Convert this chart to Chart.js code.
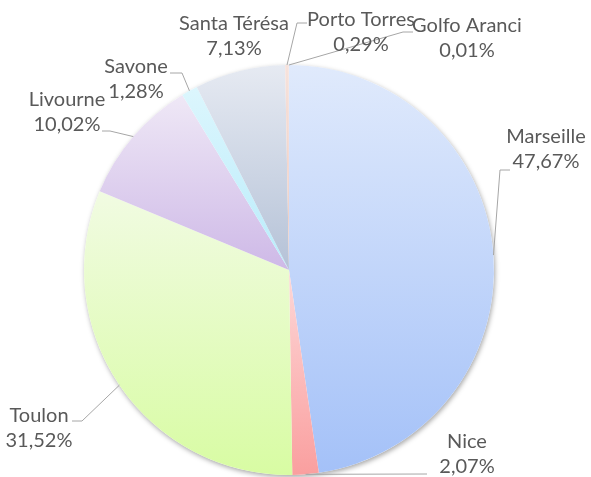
<!DOCTYPE html>
<html>
<head>
<meta charset="utf-8">
<script src="https://cdn.jsdelivr.net/npm/chart.js@4.4.1/dist/chart.umd.min.js"></script>
<style>
  html, body { margin: 0; padding: 0; background: #fff; }
  #wrap { width: 591px; height: 477px; }
</style>
</head>
<body>
<div id="wrap"><canvas id="portsChart" width="591" height="477"></canvas></div>
<script>
/* ===== Port shares pie ===== */

const ports = ['Marseille', 'Nice', 'Toulon', 'Livourne', 'Savone', 'Santa Térésa', 'Porto Torres', 'Golfo Aranci'];
const shares = [47.67, 2.07, 31.52, 10.02, 1.28, 7.13, 0.29, 0.01];
const shareLabels = ['47,67%', '2,07%', '31,52%', '10,02%', '1,28%', '7,13%', '0,29%', '0,01%'];

// gradient top / bottom colours per slice
const topColors = ['#e0eafc', '#fdd8d8', '#f1fbe2', '#efe8f6', '#dcf6fd', '#e6eaf2', '#f6e2dc', '#f4f4f4'];
const bottomColors = ['#a4c1f8', '#fa9f9f', '#d8fca3', '#ceb9e7', '#b9ecfb', '#b5c2d7', '#eec8bc', '#dddddd'];

// label placement (text centre, first line middle) and leader bends
const labelPos = [[546, 137], [467, 442], [39, 416], [67, 100], [136, 67], [234, 24], [361, 20], [467, 26]];
const leaderBends = [
  [[500, 170], [510, 170]],
  [[427, 474]],
  [[82, 421], [72, 421]],
  [[110, 131], [102, 131]],
  [[182, 73], [170, 73]],
  [],
  [[297, 23], [307, 23]],
  [[403, 32], [413, 32]]
];

const FONT = '20px Lato';
const TEXT_COLOR = '#595959';
const LINE_COLOR = '#a6a6a6';

function sliceGradient(context) {
  const chart = context.chart;
  const area = chart.chartArea;
  const i = context.dataIndex;
  if (!area) return bottomColors[i];
  const cx = (area.left + area.right) / 2;
  const cy = (area.top + area.bottom) / 2;
  const r = Math.min(area.width, area.height) / 2;
  const total = shares.reduce((a, b) => a + b, 0);
  let before = 0;
  for (let k = 0; k < i; k++) before += shares[k];
  const a0 = before / total * Math.PI * 2 - Math.PI / 2;
  const a1 = (before + shares[i]) / total * Math.PI * 2 - Math.PI / 2;
  const ys = [cy, cy + r * Math.sin(a0), cy + r * Math.sin(a1)];
  [-Math.PI / 2, Math.PI / 2, Math.PI * 1.5].forEach(a => {
    if (a > a0 && a < a1) ys.push(cy + r * Math.sin(a));
  });
  const y0 = Math.min(...ys), y1 = Math.max(...ys);
  const g = chart.ctx.createLinearGradient(0, y0, 0, y1 > y0 ? y1 : y0 + 1);
  g.addColorStop(0, topColors[i]);
  g.addColorStop(1, bottomColors[i]);
  return g;
}

const pieShadow = {
  id: 'pieShadow',
  beforeDatasetsDraw(chart) {
    const arc = chart.getDatasetMeta(0).data[0];
    if (!arc) return;
    const ctx = chart.ctx;
    ctx.save();
    ctx.shadowColor = 'rgba(0,0,0,0.35)';
    ctx.shadowBlur = 5;
    ctx.shadowOffsetX = 1;
    ctx.shadowOffsetY = 2;
    ctx.fillStyle = '#ffffff';
    ctx.beginPath();
    ctx.arc(arc.x, arc.y, arc.outerRadius, 0, Math.PI * 2);
    ctx.fill();
    ctx.restore();
  }
};

const calloutLabels = {
  id: 'calloutLabels',
  afterDatasetsDraw(chart) {
    const ctx = chart.ctx;
    const arcs = chart.getDatasetMeta(0).data;
    ctx.save();
    ctx.strokeStyle = LINE_COLOR;
    ctx.lineWidth = 1;
    arcs.forEach((arc, i) => {
      const bends = leaderBends[i];
      if (!bends.length) return;
      const mid = (arc.startAngle + arc.endAngle) / 2;
      ctx.beginPath();
      ctx.moveTo(arc.x + Math.cos(mid) * arc.outerRadius, arc.y + Math.sin(mid) * arc.outerRadius);
      bends.forEach(p => ctx.lineTo(p[0], p[1]));
      ctx.stroke();
    });
    ctx.font = FONT;
    ctx.fillStyle = TEXT_COLOR;
    ctx.textAlign = 'center';
    ctx.textBaseline = 'middle';
    ports.forEach((name, i) => {
      const [x, y] = labelPos[i];
      ctx.fillText(name, x, y);
      ctx.fillText(shareLabels[i], x, y + 25);
    });
    ctx.restore();
  }
};

new Chart(document.getElementById('portsChart'), {
  type: 'pie',
  data: {
    labels: ports,
    datasets: [{
      data: shares,
      backgroundColor: sliceGradient,
      borderWidth: 0,
      hoverOffset: 0
    }]
  },
  options: {
    responsive: false,
    animation: false,
    events: [],
    rotation: 0,
    layout: { padding: { left: 84, top: 65, right: 97, bottom: 2 } },
    plugins: {
      legend: { display: false },
      tooltip: { enabled: false }
    }
  },
  plugins: [pieShadow, calloutLabels]
});
</script>
</body>
</html>
